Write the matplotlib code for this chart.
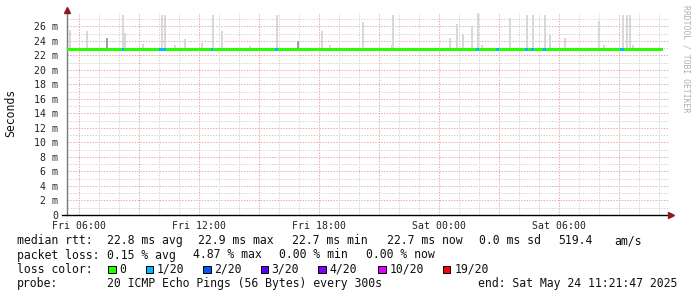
import matplotlib
matplotlib.use("Agg")
import matplotlib.pyplot as plt
from matplotlib.patches import Rectangle
import numpy as np

# ---------------- data (hours since Fri 00:00) ----------------
median_hours = [5.40, 8.0, 11.0, 14.0, 17.0, 20.0, 23.0, 26.0, 29.0, 32.0, 35.20]
median_ms = [22.85, 22.85, 22.85, 22.85, 22.85, 22.85, 22.85, 22.85, 22.85, 22.85, 22.85]

spike_hours = [5.55, 6.40, 7.40, 8.20, 8.30, 9.20, 10.15, 10.30, 10.80, 11.30,
               12.15, 12.70, 13.15, 14.55, 15.90, 16.95, 18.15, 18.55, 20.20,
               21.65, 21.70, 24.55, 24.90, 25.20, 25.65, 25.95, 26.15, 27.55,
               28.40, 28.70, 29.30, 29.55, 30.30, 32.00, 32.25, 33.20, 33.40,
               33.55, 33.70]
spike_top_ms = [25.5, 25.4, 24.4, 27.6, 25.1, 23.6, 27.6, 27.6, 23.4, 24.3,
                23.7, 27.6, 25.4, 23.3, 27.6, 24.0, 25.4, 23.4, 26.6,
                23.5, 27.6, 24.4, 26.4, 25.0, 26.0, 27.8, 23.5, 27.2,
                27.6, 27.6, 27.6, 24.8, 24.4, 26.8, 23.5, 27.6, 27.6,
                27.6, 23.4]
dense_spike_hours = [7.40, 16.95]

loss_start_hours = [8.15, 10.00, 12.60, 15.80, 25.85, 26.85, 28.30, 28.60, 29.20, 33.05]
loss_end_hours = [8.25, 10.35, 12.70, 15.95, 26.00, 27.00, 28.45, 28.75, 29.35, 33.25]

xtick_hours = [6, 12, 18, 24, 30]
xtick_labels = ["Fri 06:00", "Fri 12:00", "Fri 18:00", "Sat 00:00", "Sat 06:00"]
ytick_values = list(range(0, 27, 2))
ytick_labels = ["0"] + [f"{v} m" for v in range(2, 27, 2)]

loss_levels = ["0", "1/20", "2/20", "3/20", "4/20", "10/20", "19/20"]
loss_colors = ["#26ff00", "#00b8ff", "#0059ff", "#5e00ff", "#7e00ff", "#dd00ff", "#ff0000"]

legend_rows = [
    [(16.7, "median rtt:"), (107, "22.8 ms avg"), (197.7, "22.9 ms max"),
     (291.7, "22.7 ms min"), (386.7, "22.7 ms now"), (479.3, "0.0 ms sd"),
     (558.3, "519.4"), (614, "am/s")],
    [(16.7, "packet loss:"), (107.3, "0.15 % avg"), (192.7, "4.87 % max"),
     (279.3, "0.00 % min"), (366, "0.00 % now")],
    [(16.7, "loss color:")],
    [(16.7, "probe:"), (107, "20 ICMP Echo Pings (56 Bytes) every 300s"),
     (478.3, "end: Sat May 24 11:21:47 2025")],
]
legend_row_y = [240.7, 255.0, 269.3, 283.3]
loss_box_x = [108.3, 145.7, 203.3, 260.7, 318.3, 378.3, 442.7]
loss_label_x = [119.3, 156.7, 214.3, 271.7, 329.3, 389.3, 454.3]

# ---------------- figure ----------------
W, H = 697, 297
fig = plt.figure(figsize=(W / 100, H / 100), dpi=100)
fig.patch.set_facecolor("white")
ax = fig.add_axes([67 / W, (H - 215) / H, 601 / W, 202 / H])
xmin, xmax = 5.40, 35.45
ymin, ymax = 0, 27.86
ax.set_xlim(xmin, xmax)
ax.set_ylim(ymin, ymax)

mono = "DejaVu Sans Mono"

# grid
grid_gray = "#d4d4d4"
grid_red = "#eaaaaa"
for v in range(1, 28):
    col = grid_red if v % 2 == 0 else grid_gray
    ax.axhline(v, color=col, lw=0.72, dashes=(1.4, 1.4), zorder=1)
for h in range(6, 36):
    col = grid_red if h % 3 == 0 else grid_gray
    ax.axvline(h, color=col, lw=0.72, dashes=(1.4, 1.4), zorder=1)

# smoke
smoke_floor = 22.6
tops = np.array(spike_top_ms)
ax.bar(spike_hours, tops - smoke_floor, bottom=smoke_floor, width=0.1,
       color="#d8d8d8", linewidth=0, zorder=2)
for h in dense_spike_hours:
    i = spike_hours.index(h)
    ax.bar([h], [tops[i] - smoke_floor], bottom=smoke_floor, width=0.06,
           color="#a0a0a0", linewidth=0, zorder=2.1)

# median band (loss colored)
mh = np.array(median_hours)
mv = np.array(median_ms)
ax.fill_between(mh, mv - 0.24, mv + 0.22, step="post", color=loss_colors[0],
                linewidth=0, zorder=3)
for s, e in zip(loss_start_hours, loss_end_hours):
    m = np.interp((s + e) / 2, mh, mv)
    ax.fill_between([s, e], m - 0.24, m + 0.22, color=loss_colors[1],
                    linewidth=0, zorder=3.1)

# axes styling
for side in ["top", "right"]:
    ax.spines[side].set_visible(False)
ax.spines["left"].set_color("#7a7a7a")
ax.spines["left"].set_linewidth(1.0)
ax.spines["bottom"].set_color("black")
ax.spines["bottom"].set_linewidth(1.0)
ax.spines["bottom"].set_bounds(xmin - 0.25, xmax + 0.05)

ax.set_xticks(xtick_hours)
ax.set_xticklabels(xtick_labels, fontfamily=mono, fontsize=7.1)
ax.set_yticks(ytick_values)
ax.set_yticklabels(ytick_labels, fontfamily=mono, fontsize=7.1)
ax.tick_params(axis="both", length=0, colors="#222222")
ax.tick_params(axis="y", pad=6.5)
ax.tick_params(axis="x", pad=4.5)
ax.minorticks_off()

# arrows
ax.plot([xmin], [ymax + 0.35], marker="^", color="#8b1a1a", markersize=4,
        clip_on=False, zorder=5)
ax.plot([xmax + 0.13], [0], marker=">", color="#8b1a1a", markersize=4,
        clip_on=False, zorder=5)

# y label
fig.text(10.5 / W, 1 - 113 / H, "Seconds", rotation=90, fontfamily=mono,
         fontsize=8.3, ha="center", va="center", color="#111111")

# watermark
fig.text(686 / W, 1 - 5 / H, "RRDTOOL / TOBI OETIKER", rotation=-90,
         fontfamily=mono, fontsize=5.9, ha="center", va="top", color="#b0b0b0")

# legend text
for row, y in zip(legend_rows, legend_row_y):
    for x, t in row:
        fig.text(x / W, 1 - y / H, t, fontfamily=mono, fontsize=8.3,
                 ha="left", va="center", color="#111111")
y3 = legend_row_y[2]
for bx, lx, lab, col in zip(loss_box_x, loss_label_x, loss_levels, loss_colors):
    fig.patches.append(Rectangle((bx / W, 1 - (y3 + 3.8) / H), 7.5 / W, 7.5 / H,
                                 transform=fig.transFigure, facecolor=col,
                                 edgecolor="black", linewidth=0.7))
    fig.text(lx / W, 1 - y3 / H, lab, fontfamily=mono, fontsize=8.3,
             ha="left", va="center", color="#111111")

fig.savefig("out.png", dpi=100, facecolor="white")
